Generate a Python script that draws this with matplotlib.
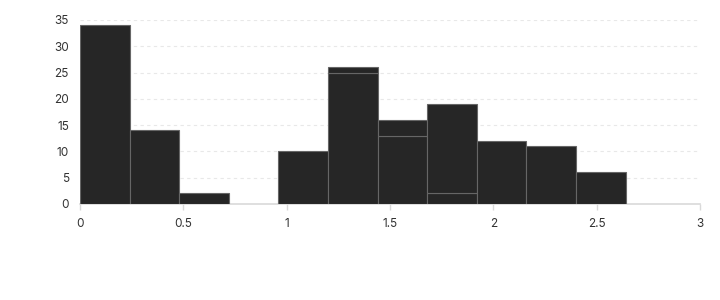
import matplotlib.pyplot as plt
import numpy as np

plt.rcParams['font.family'] = ['Inter', 'DejaVu Sans']
plt.rcParams['font.size'] = 8.5

# histogram bins (petal width), width 0.24
bin_edges = [0, 0.24, 0.48, 0.72, 0.96, 1.2, 1.44, 1.68, 1.92, 2.16, 2.4, 2.64]
setosa = [34, 14, 2, 0, 0, 0, 0, 0, 0, 0, 0]
versicolor = [0, 0, 0, 0, 10, 25, 13, 2, 0, 0, 0]
virginica = [0, 0, 0, 0, 0, 1, 3, 17, 12, 11, 6]

xticks = [0, 0.5, 1, 1.5, 2, 2.5, 3]
xticklabels = ['0', '0.5', '1', '1.5', '2', '2.5', '3']
yticks = [0, 5, 10, 15, 20, 25, 30, 35]

fig = plt.figure(figsize=(7.2, 3.0), dpi=100)
ax = fig.add_axes([80/720, 96/300, 620/720, 184/300])

left = np.array(bin_edges[:-1])
widths = np.diff(bin_edges)
bottom = np.zeros(len(left))
barcolor = '#262626'
ecolor = '#666666'
for series in [setosa, versicolor, virginica]:
  vals = np.array(series, dtype=float)
  mask = vals > 0
  ax.bar(left[mask], vals[mask], width=widths[mask], bottom=bottom[mask], align='edge',
         color=barcolor, edgecolor=ecolor, linewidth=0.8, zorder=3)
  bottom += vals

ax.set_xlim(0, 3)
ax.set_ylim(0, 35)
ax.set_xticks(xticks)
ax.set_xticklabels(xticklabels)
ax.set_yticks(yticks)

ax.yaxis.grid(linestyle=(0, (3, 3)), color='#e8e8e8', linewidth=0.8, zorder=0)
for s in ['left', 'right', 'top']:
  ax.spines[s].set_visible(False)
ax.spines['bottom'].set_color('#d9d9d9')
ax.spines['bottom'].set_linewidth(1.2)
ax.spines['bottom'].set_zorder(2)

ax.tick_params(axis='y', length=0, pad=8, labelcolor='#333333')
ax.tick_params(axis='x', length=4, width=1, color='#d9d9d9', pad=6, labelcolor='#333333')

fig.savefig('out.png', dpi=100)
